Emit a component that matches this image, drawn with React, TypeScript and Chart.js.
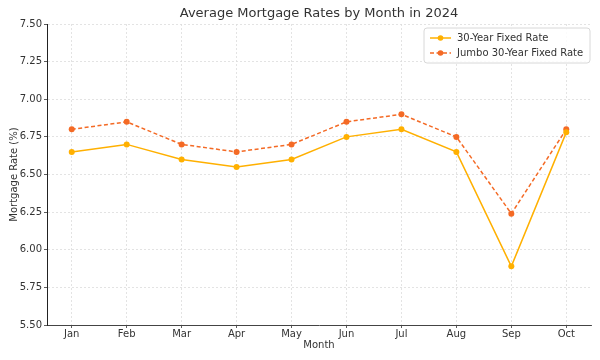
import React, { useEffect, useRef } from "react";
import { Chart, registerables } from "chart.js";

Chart.register(...registerables);

const months = ["Jan", "Feb", "Mar", "Apr", "May", "Jun", "Jul", "Aug", "Sep", "Oct"];
const fixed30 = [6.65, 6.7, 6.6, 6.55, 6.6, 6.75, 6.8, 6.65, 5.89, 6.78];
const jumbo30 = [6.8, 6.85, 6.7, 6.65, 6.7, 6.85, 6.9, 6.75, 6.24, 6.8];
const seriesNames = ["30-Year Fixed Rate", "Jumbo 30-Year Fixed Rate"];
const titleText = "Average Mortgage Rates by Month in 2024";

const C1 = "#FFB000";
const C2 = "#F46A25";
const FONT = "'DejaVu Sans', sans-serif";

export default function App() {
  const ref = useRef<HTMLCanvasElement | null>(null);
  useEffect(() => {
    if (!ref.current) return;
    const titleLegend = {
      id: "titleLegend",
      afterDraw(chart: any) {
        const ctx = chart.ctx as CanvasRenderingContext2D;
        const ca = chart.chartArea;
        ctx.save();
        ctx.fillStyle = "#333";
        ctx.font = `13px ${FONT}`;
        ctx.textAlign = "center";
        ctx.textBaseline = "middle";
        ctx.fillText(titleText, (ca.left + ca.right) / 2, 14);
        // legend
        const bx = 424, by = 28, bw = 166, bh = 35;
        ctx.beginPath();
        const r = 3;
        ctx.moveTo(bx + r, by);
        ctx.arcTo(bx + bw, by, bx + bw, by + bh, r);
        ctx.arcTo(bx + bw, by + bh, bx, by + bh, r);
        ctx.arcTo(bx, by + bh, bx, by, r);
        ctx.arcTo(bx, by, bx + bw, by, r);
        ctx.closePath();
        ctx.fillStyle = "rgba(255,255,255,0.85)";
        ctx.fill();
        ctx.strokeStyle = "#d8d8d8";
        ctx.lineWidth = 1;
        ctx.stroke();
        const rows = [
          { c: C1, dash: [] as number[], y: by + 10 },
          { c: C2, dash: [4, 2.5], y: by + 25 },
        ];
        rows.forEach((row, i) => {
          ctx.strokeStyle = row.c;
          ctx.lineWidth = 1.5;
          ctx.setLineDash(row.dash);
          ctx.beginPath();
          ctx.moveTo(bx + 6, row.y);
          ctx.lineTo(bx + 27, row.y);
          ctx.stroke();
          ctx.setLineDash([]);
          ctx.fillStyle = row.c;
          ctx.beginPath();
          ctx.arc(bx + 16.5, row.y, 2.8, 0, Math.PI * 2);
          ctx.fill();
          ctx.fillStyle = "#333";
          ctx.font = `10px ${FONT}`;
          ctx.textAlign = "left";
          ctx.fillText(seriesNames[i], bx + 33, row.y);
        });
        ctx.restore();
      },
    };
    const chart = new Chart(ref.current, {
      type: "line",
      data: {
        datasets: [
          {
            label: seriesNames[0],
            data: fixed30.map((v, i) => ({ x: i, y: v })),
            borderColor: C1,
            backgroundColor: C1,
            borderWidth: 1.5,
            pointRadius: 3,
            pointBorderWidth: 0,
            pointBackgroundColor: C1,
            tension: 0,
          },
          {
            label: seriesNames[1],
            data: jumbo30.map((v, i) => ({ x: i, y: v })),
            borderColor: C2,
            backgroundColor: C2,
            borderWidth: 1.5,
            borderDash: [4, 2.5],
            pointRadius: 3,
            pointBorderWidth: 0,
            pointBackgroundColor: C2,
            tension: 0,
          },
        ],
      },
      plugins: [titleLegend],
      options: {
        animation: false,
        responsive: false,
        devicePixelRatio: 1,
        layout: { padding: { top: 24, right: 9, left: 0, bottom: 0 } },
        plugins: {
          legend: { display: false },
          title: { display: false },
          tooltip: { enabled: false },
        },
        scales: {
          x: {
            type: "linear",
            min: -0.45,
            max: months.length - 1 + 0.45,
            afterBuildTicks: (s: any) => {
              s.ticks = months.map((_, i) => ({ value: i }));
            },
            afterFit: (s: any) => {
              s.height = 35;
            },
            ticks: {
              autoSkip: false,
              maxRotation: 0,
              color: "#333",
              font: { family: FONT, size: 10 },
              padding: 0,
              callback: (v: any) => months[v as number] ?? "",
            },
            grid: {
              color: "#dcdcdc",
              lineWidth: 0.8,
              tickColor: "#333",
              tickLength: 3,
              tickBorderDash: [],
            } as any,
            border: { display: true, color: "#444", width: 1, dash: [2, 2] } as any,
            title: {
              display: true,
              text: "Month",
              color: "#333",
              font: { family: FONT, size: 10 },
              padding: { top: 0, bottom: 9 },
            },
          },
          y: {
            min: 5.5,
            max: 7.5,
            afterFit: (s: any) => {
              s.width = 47;
            },
            ticks: {
              stepSize: 0.25,
              color: "#333",
              font: { family: FONT, size: 10 },
              padding: 2,
              callback: (v: any) => Number(v).toFixed(2),
            },
            grid: {
              color: "#dcdcdc",
              lineWidth: 0.8,
              tickColor: "#333",
              tickLength: 3,
              tickBorderDash: [],
            } as any,
            border: { display: true, color: "#222", width: 1, dash: [2, 2] } as any,
            title: {
              display: true,
              text: "Mortgage Rate (%)",
              color: "#333",
              font: { family: FONT, size: 10 },
              padding: { top: 8, bottom: 2 },
            },
          },
        },
      },
    } as any);
    return () => chart.destroy();
  }, []);
  return (
    <div style={{ position: "absolute", left: 0, top: 0, width: 600, height: 360, background: "#fff" }}>
      <canvas ref={ref} width={600} height={360} />
    </div>
  );
}
